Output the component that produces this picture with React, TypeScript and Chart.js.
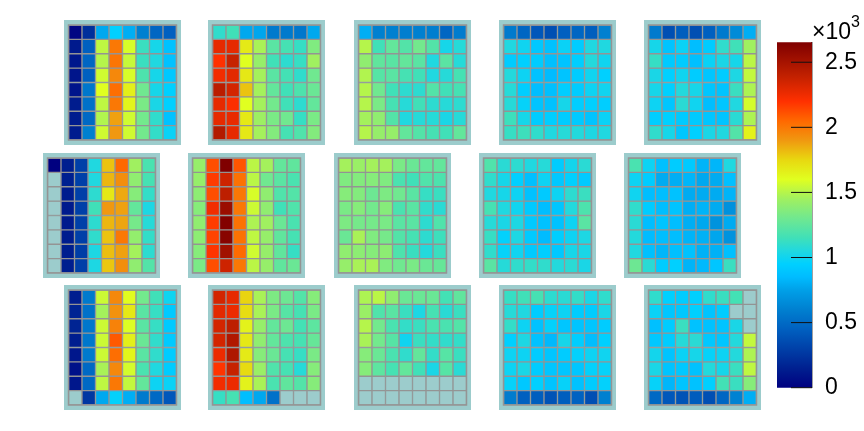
import { useEffect, useRef } from "react"
import Chart from "chart.js/auto"

// cell values, top row first; null = no data (panel background shows)
const r1c1 = [
  [30, 220, 780, 950, 800, 600, 480, 450],
  [120, 450, 1520, 2000, 1580, 1130, 1020, 880],
  [110, 480, 1500, 2010, 1540, 1130, 1050, 880],
  [100, 450, 1560, 1950, 1580, 1190, 1020, 910],
  [100, 560, 1600, 2030, 1660, 1300, 1020, 950],
  [130, 530, 1520, 2000, 1640, 1330, 1030, 950],
  [130, 490, 1490, 1880, 1560, 1310, 1100, 880],
  [130, 600, 1560, 1900, 1560, 1310, 1110, 980],
]
const r1c2 = [
  [1100, 1150, 780, 770, 570, 570, 560, 780],
  [2280, 2280, 1680, 1470, 1230, 1170, 1120, 1350],
  [2200, 2380, 1600, 1420, 1150, 1090, 1120, 1450],
  [2240, 2290, 1690, 1460, 1230, 1160, 1100, 1300],
  [2420, 2340, 1800, 1460, 1260, 1150, 1190, 1280],
  [2280, 2210, 1600, 1460, 1310, 1150, 1090, 1260],
  [2280, 2270, 1690, 1440, 1330, 1300, 1120, 1330],
  [2450, 2280, 1690, 1460, 1360, 1170, 1200, 1360],
]
const r1c3 = [
  [800, 600, 600, 590, 600, 590, 480, 580],
  [1500, 1150, 1260, 1210, 1310, 1210, 1020, 1070],
  [1400, 1250, 1230, 1260, 1230, 1050, 1230, 1070],
  [1490, 1220, 1230, 1170, 1150, 1050, 1070, 1170],
  [1500, 1300, 1150, 1090, 1090, 1210, 1150, 1170],
  [1500, 1330, 1170, 1070, 1150, 1090, 1070, 1090],
  [1460, 1400, 1210, 1050, 1070, 1070, 1030, 1070],
  [1500, 1420, 1420, 1260, 1210, 1170, 1150, 1260],
]
const r1c4 = [
  [570, 480, 410, 370, 450, 480, 440, 600],
  [1050, 1000, 910, 880, 980, 930, 1050, 1050],
  [930, 950, 930, 870, 890, 940, 1060, 1000],
  [1060, 990, 880, 850, 890, 930, 1000, 950],
  [1070, 940, 860, 870, 940, 930, 990, 1000],
  [1070, 970, 890, 880, 1020, 940, 950, 940],
  [1140, 1020, 930, 940, 930, 920, 890, 980],
  [1120, 1140, 1100, 1050, 1070, 1060, 1040, 1050],
]
const r1c5 = [
  [570, 370, 440, 370, 450, 570, 650, 800],
  [1020, 890, 980, 860, 930, 1100, 1150, 1450],
  [1120, 920, 930, 870, 980, 1030, 1020, 1510],
  [1030, 950, 1000, 930, 900, 930, 1040, 1530],
  [1020, 950, 1060, 1020, 900, 890, 1130, 1480],
  [990, 900, 1080, 1000, 860, 900, 1050, 1570],
  [940, 950, 920, 920, 900, 890, 1080, 1480],
  [1100, 1020, 900, 950, 1030, 1050, 1210, 1650],
]
const r2c1 = [
  [0, 140, 300, 1050, 1800, 2050, 1450, 1180],
  [null, 150, 300, 1050, 1830, 1930, 1400, 1170],
  [null, 130, 300, 1090, 1690, 1860, 1370, 1110],
  [null, 120, 300, 1150, 1900, 1880, 1260, 1040],
  [null, 120, 300, 1090, 1830, 1870, 1320, 1070],
  [null, 130, 300, 1100, 1800, 2000, 1410, 1110],
  [null, 140, 290, 1040, 1810, 1880, 1460, 1090],
  [null, 140, 300, 1040, 1790, 1930, 1400, 1210],
]
const r2c2 = [
  [1420, 2120, 2650, 2100, 1510, 1460, 1260, 1250],
  [1420, 2170, 2360, 2020, 1510, 1300, 1230, 1180],
  [1390, 2120, 2410, 2000, 1580, 1400, 1200, 1210],
  [1370, 2240, 2550, 2000, 1550, 1400, 1150, 1200],
  [1400, 2170, 2640, 2020, 1480, 1450, 1280, 1180],
  [1390, 2150, 2620, 2020, 1520, 1420, 1250, 1170],
  [1370, 2190, 2520, 2040, 1560, 1420, 1250, 1120],
  [1330, 2120, 2360, 2000, 1510, 1420, 1250, 1280],
]
const r2c3 = [
  [1460, 1430, 1460, 1460, 1330, 1280, 1260, 1260],
  [1350, 1360, 1370, 1350, 1180, 1150, 1200, 1190],
  [1370, 1360, 1290, 1340, 1300, 1230, 1120, 1130],
  [1330, 1370, 1310, 1370, 1180, 1230, 1100, 1080],
  [1340, 1320, 1320, 1330, 1230, 1230, 1090, 1200],
  [1280, 1470, 1350, 1320, 1210, 1170, 1090, 1140],
  [1400, 1390, 1370, 1390, 1190, 1130, 1060, 1130],
  [1420, 1470, 1470, 1350, 1300, 1330, 1280, 1270],
]
const r2c4 = [
  [1200, 1080, 1090, 1050, 1070, 930, 1010, 1080],
  [1100, 1020, 950, 870, 990, 910, 950, 920],
  [1050, 1020, 990, 880, 920, 990, 1090, 1130],
  [1170, 1050, 1000, 920, 860, 900, 1060, 1190],
  [1070, 1030, 1040, 920, 880, 880, 990, 1230],
  [1120, 960, 1040, 920, 850, 940, 990, 1040],
  [1100, 970, 1000, 920, 940, 910, 1020, 1030],
  [1230, 1070, 1100, 1110, 1100, 1060, 1080, 1030],
]
const r2c5 = [
  [1180, 990, 870, 930, 920, 820, 830, 1050],
  [990, 930, 790, 800, 830, 780, 790, 870],
  [1000, 860, 860, 880, 790, 790, 790, 820],
  [1100, 930, 860, 890, 800, 820, 790, 680],
  [1080, 860, 890, 860, 800, 780, 690, 790],
  [1060, 850, 860, 860, 820, 810, 770, 690],
  [1050, 870, 830, 870, 880, 810, 810, 870],
  [1290, 1080, 930, 950, 820, 840, 900, 1130],
]
const r3c1 = [
  [140, 570, 1550, 1950, 1610, 1310, 1150, 1000],
  [170, 530, 1460, 1920, 1690, 1230, 1120, 920],
  [170, 560, 1550, 1970, 1590, 1230, 1120, 920],
  [140, 560, 1550, 2090, 1660, 1280, 1100, 920],
  [110, 570, 1550, 2030, 1640, 1230, 1100, 930],
  [80, 490, 1470, 1950, 1570, 1180, 1050, 930],
  [110, 490, 1520, 2000, 1530, 1260, 990, 980],
  [null, 260, 780, 960, 800, 570, 490, 410],
]
const r3c2 = [
  [2340, 2280, 1760, 1470, 1340, 1290, 1210, 1370],
  [2290, 2260, 1730, 1470, 1330, 1220, 1170, 1330],
  [2340, 2410, 1650, 1420, 1260, 1290, 1160, 1240],
  [2340, 2460, 1690, 1400, 1260, 1190, 1170, 1270],
  [2260, 2470, 1680, 1370, 1280, 1170, 1120, 1330],
  [2190, 2380, 1740, 1430, 1200, 1170, 1070, 1370],
  [2240, 2260, 1650, 1470, 1180, 1250, 1210, 1370],
  [1120, 1170, 860, 780, 530, null, null, null],
]
const r3c3 = [
  [1480, 1510, 1400, 1280, 1280, 1280, 1160, 1250],
  [1430, 1200, 1230, 1130, 1040, 1170, 1080, 1130],
  [1500, 1310, 1180, 1110, 1130, 1180, 1180, 1210],
  [1470, 1310, 1220, 1000, 1130, 1110, 1100, 1110],
  [1370, 1280, 1180, 1100, 1260, 1110, 1220, 1130],
  [1370, 1240, 1170, 1260, 1150, 1030, 1220, 1080],
  [null, null, null, null, null, null, null, null],
  [null, null, null, null, null, null, null, null],
]
const r3c4 = [
  [1120, 1150, 1170, 1090, 1080, 1110, 1030, 1100],
  [1070, 1050, 930, 970, 990, 930, 930, 1030],
  [1110, 990, 880, 960, 900, 890, 900, 930],
  [950, 1040, 880, 840, 1020, 940, 860, 950],
  [990, 990, 930, 900, 930, 960, 990, 1000],
  [990, 1030, 930, 900, 900, 900, 960, 970],
  [970, 910, 950, 890, 970, 880, 930, 960],
  [580, 450, 440, 390, 440, 460, 370, 600],
]
const r3c5 = [
  [1100, 950, 930, 950, 1100, 1130, 1160, null],
  [980, 900, 910, 950, 890, 930, null, null],
  [870, 930, 1130, 880, 880, 890, 1030, null],
  [910, 930, 1070, 1080, 910, 900, 1060, 1530],
  [1010, 890, 980, 1020, 970, 990, 1060, 1480],
  [1030, 890, 910, 880, 1060, 1020, 1130, 1520],
  [970, 830, 890, 880, 950, 1160, 1130, 1370],
  [490, 410, 390, 430, 370, 480, 610, 800],
]

const columns = ["1", "2", "3", "4", "5", "6", "7", "8"]
const colorbarTicks = [0, 500, 1000, 1500, 2000, 2500]
const colorbarMax = 2653

// palette stops
const stopValues = [0, 150, 300, 450, 600, 750, 850, 950, 1050, 1150, 1300, 1450, 1600, 1750, 1900, 2050, 2200, 2400, 2650]
const stopColors = [
  [0, 0, 128], [0, 32, 144], [0, 64, 168], [0, 96, 192], [0, 128, 208],
  [0, 160, 232], [0, 188, 255], [0, 208, 255], [32, 216, 224], [64, 224, 184],
  [112, 232, 144], [160, 240, 96], [224, 255, 32], [232, 216, 16], [240, 152, 16],
  [255, 104, 0], [255, 48, 0], [192, 32, 0], [128, 0, 0],
]

const panelBg = "#9ccccc"
const gridGray = "#949494"

function valueColor(v: number | null) {
  if (v === null) return panelBg
  let i = 0
  while (i < stopValues.length - 2 && v > stopValues[i + 1]) i++
  const t = Math.min(1, (v - stopValues[i]) / (stopValues[i + 1] - stopValues[i]))
  const c = stopColors[i].map((a, k) => Math.round(a + (stopColors[i + 1][k] - a) * t))
  return `rgb(${c[0]},${c[1]},${c[2]})`
}

function HeatPanel({ rows, left, top }: { rows: (number | null)[][]; left: number; top: number }) {
  const ref = useRef<HTMLCanvasElement>(null)

  useEffect(() => {
    if (!ref.current) return
    const chart = new Chart(ref.current, {
      type: "bar",
      data: {
        labels: columns,
        // one stacked dataset per row, each cell is one unit tall
        datasets: rows.map((row) => ({
          data: row.map(() => 1),
          backgroundColor: row.map(valueColor),
          borderColor: gridGray,
          borderWidth: 1,
          borderSkipped: false as const,
          barPercentage: 1,
          categoryPercentage: 1,
        })),
      },
      options: {
        animation: false,
        responsive: false,
        layout: { padding: { left: 4.5, right: 4.5, top: 5, bottom: 5 } },
        plugins: { legend: { display: false }, tooltip: { enabled: false } },
        scales: {
          x: { display: false, stacked: true },
          y: { display: false, stacked: true, reverse: true, min: 0, max: rows.length },
        },
      },
      plugins: [
        {
          id: "panelFrame",
          afterDraw: (c: any) => {
            const { ctx, chartArea: a } = c
            ctx.save()
            ctx.strokeStyle = gridGray
            ctx.lineWidth = 1.5
            ctx.strokeRect(a.left, a.top, a.width, a.height)
            ctx.restore()
          },
        },
      ],
    })
    return () => chart.destroy()
  }, [rows])

  return (
    <canvas
      ref={ref}
      width={117}
      height={125}
      style={{ position: "absolute", left, top, width: 117, height: 125, background: panelBg }}
    />
  )
}

function Colorbar() {
  const ref = useRef<HTMLCanvasElement>(null)

  useEffect(() => {
    if (!ref.current) return
    const font = '"Liberation Sans", Arial, sans-serif'
    const chart = new Chart(ref.current, {
      type: "bar",
      data: {
        labels: ["z"],
        datasets: [
          {
            data: [colorbarMax],
            barPercentage: 1,
            categoryPercentage: 1,
            backgroundColor: (c: any) => {
              const area = c.chart.chartArea
              if (!area) return panelBg
              const g = c.chart.ctx.createLinearGradient(0, area.bottom, 0, area.top)
              stopValues.forEach((v) => g.addColorStop(Math.min(1, v / colorbarMax), valueColor(v)))
              return g
            },
          },
        ],
      },
      options: {
        animation: false,
        responsive: false,
        layout: { padding: { top: 42.3, bottom: 43.3 } },
        plugins: { legend: { display: false }, tooltip: { enabled: false } },
        scales: {
          x: { display: false },
          y: {
            position: "right",
            min: 0,
            max: colorbarMax,
            afterFit: (s: any) => {
              s.width = 52
            },
            afterBuildTicks: (s: any) => {
              s.ticks = colorbarTicks.map((value) => ({ value }))
            },
            grid: { display: false },
            border: { color: "#444444", width: 1.5 },
            ticks: {
              padding: 5,
              color: "#000000",
              font: { family: font, size: 23 },
              callback: (v: any) => String(Number(v) / 1000),
            },
          },
        },
      },
      plugins: [
        {
          id: "colorbarMarks",
          afterDraw: (c: any) => {
            const { ctx, chartArea, scales } = c
            ctx.save()
            // inward tick marks
            ctx.strokeStyle = "#111111"
            ctx.lineWidth = 1
            colorbarTicks.forEach((v) => {
              const py = scales.y.getPixelForValue(v)
              ctx.beginPath()
              ctx.moveTo(chartArea.right - 21, py)
              ctx.lineTo(chartArea.right, py)
              ctx.stroke()
            })
            // axis exponent
            ctx.fillStyle = "#000000"
            ctx.textBaseline = "alphabetic"
            ctx.font = `23px ${font}`
            ctx.fillText("×10", chartArea.right, 39)
            ctx.font = `16px ${font}`
            ctx.fillText("3", chartArea.right + 39, 27)
            ctx.restore()
          },
        },
      ],
    })
    return () => chart.destroy()
  }, [])

  return (
    <canvas
      ref={ref}
      width={87}
      height={431}
      style={{ position: "absolute", left: 777, top: 0, width: 87, height: 431 }}
    />
  )
}

const rowA = [63.5, 208, 354, 499, 644]
const rowB = [43, 188, 333.5, 478.5, 623.5]
const rowTops = [20, 153, 285]
const panelRows = [
  [r1c1, r1c2, r1c3, r1c4, r1c5],
  [r2c1, r2c2, r2c3, r2c4, r2c5],
  [r3c1, r3c2, r3c3, r3c4, r3c5],
]

export default function App() {
  return (
    <div style={{ position: "fixed", left: 0, top: 0, width: 864, height: 431, background: "#fff", overflow: "hidden" }}>
      {panelRows.map((panels, r) =>
        panels.map((rows, c) => (
          <HeatPanel key={`${r}-${c}`} rows={rows} left={(r === 1 ? rowB : rowA)[c]} top={rowTops[r]} />
        )),
      )}
      <Colorbar />
    </div>
  )
}
